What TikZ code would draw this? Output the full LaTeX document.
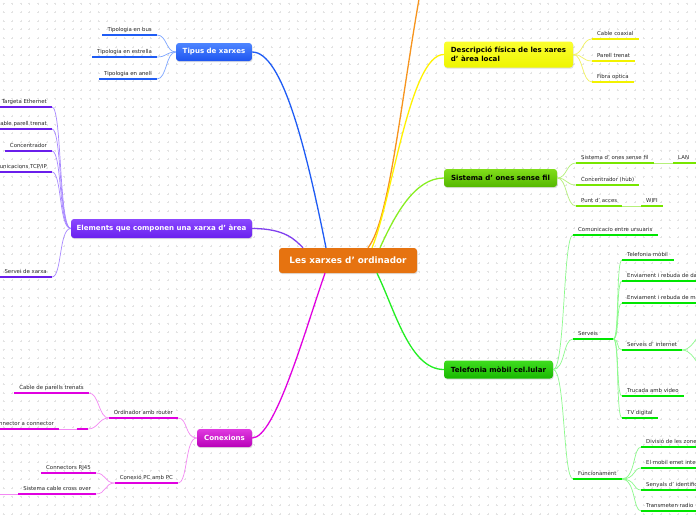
\documentclass[tikz,border=0pt]{standalone}
\usepackage{fontspec}
\setmainfont{DejaVu Sans}
\usetikzlibrary{shadows}
\definecolor{cOrange}{HTML}{E67310}
\definecolor{cOrangeL}{HTML}{F7941D}
\definecolor{cBlue}{HTML}{1F5CF5}
\definecolor{cBlueT}{HTML}{4D85FF}
\definecolor{cBlueB}{HTML}{1E55F0}
\definecolor{cBlueC}{HTML}{7EA6FF}
\definecolor{cPur}{HTML}{6A1EEB}
\definecolor{cPurT}{HTML}{8A48FF}
\definecolor{cPurB}{HTML}{6A20EE}
\definecolor{cPurC}{HTML}{A888FF}
\definecolor{cMag}{HTML}{E000E0}
\definecolor{cMagT}{HTML}{E03AE0}
\definecolor{cMagB}{HTML}{B800B8}
\definecolor{cMagC}{HTML}{F388F3}
\definecolor{cYel}{HTML}{F2F200}
\definecolor{cYelT}{HTML}{FBFF30}
\definecolor{cYelB}{HTML}{EEF500}
\definecolor{cYelC}{HTML}{F2F260}
\definecolor{cLg}{HTML}{77E600}
\definecolor{cLgT}{HTML}{80DD1A}
\definecolor{cLgB}{HTML}{55B800}
\definecolor{cLgC}{HTML}{B5F07A}
\definecolor{cLgM}{HTML}{88EE22}
\definecolor{cGr}{HTML}{00E600}
\definecolor{cGrT}{HTML}{3FDD1F}
\definecolor{cGrB}{HTML}{18B800}
\definecolor{cGrC}{HTML}{8CFA8C}
\definecolor{cGrM}{HTML}{22EE22}
\begin{document}
\begin{tikzpicture}[x=1pt,y=-1pt,
  box/.style={rounded corners=3pt, inner sep=2pt, align=center,
    font=\bfseries\fontsize{7.05}{8.6}\selectfont,
    drop shadow={shadow xshift=0.6pt, shadow yshift=-1.2pt, opacity=0.25}},
  leaf/.style={font=\fontsize{5.4}{6.5}\selectfont, text=black!85, inner xsep=5pt,
    inner ysep=1.6pt, text height=4.1pt, text depth=1.3pt},
  mainc/.style={line width=1.3pt},
  subc/.style={line width=0.7pt},
  ul/.style={line width=2.6pt},
  gridc/.style={draw=gray!22, line width=0.35pt}]
\useasboundingbox (0,0) rectangle (696,520);
\clip (0,0) rectangle (696,520);
\fill[white] (0,0) rectangle (696,520);
\draw[gridc] \foreach \i in {0,...,80}{\foreach \j in {0,...,60}{
  ({3.5+8.65*\i},{3.5+8.65*\j}) +(-1,0) -- +(1,0) +(0,-1) -- +(0,1)}};

% ---------- main boxes ----------
\node[box, minimum width=138, minimum height=25, fill=cOrange, text=white,
  font=\bfseries\fontsize{8.8}{10}\selectfont] (ctr) at (348,260.5) {Les xarxes d' ordinador};
\node[box, minimum width=76, minimum height=18, top color=cBlueT, bottom color=cBlueB, text=white] (tipus) at (214,52) {Tipus de xarxes};
\node[box, minimum width=181, minimum height=19, top color=cPurT, bottom color=cPurB, text=white] (elem) at (161.5,228.5) {Elements que componen una xarxa d' àrea};
\node[box, minimum width=55, minimum height=18, top color=cMagT, bottom color=cMagB, text=white] (conex) at (224.5,438) {Conexions};
\node[box, minimum width=129, minimum height=26, top color=cYelT, bottom color=cYelB, text=black, align=left] (desc) at (508.5,54.5) {Descripció física de les xares\\d' àrea local};
\node[box, minimum width=113, minimum height=18, top color=cLgT, bottom color=cLgB, text=black] (sist) at (500.5,178) {Sistema d' ones sense fil};
\node[box, minimum width=109, minimum height=18, top color=cGrT, bottom color=cGrB, text=black] (tele) at (498.5,369.5) {Telefonia mòbil cel.lular};

% ---------- main connectors ----------
\coordinate (offtop) at (421,-12);
\draw[mainc, cOrangeL] ([xshift=20pt]ctr.north) .. controls +(22,-28) and +(-20,110) .. (offtop);
\draw[mainc, cBlue] ([xshift=-22pt]ctr.north) .. controls +(-20,-100) and +(30,0) .. (tipus.east);
\draw[mainc, cPur!85] ([xshift=-45pt]ctr.north) .. controls +(-8,-8) and +(33,0) .. (elem.east);
\draw[mainc, cMag] ([xshift=-23pt]ctr.south) .. controls +(-20,57) and +(23,0) .. (conex.east);
\draw[mainc, yellow] ([xshift=24pt]ctr.north) .. controls +(20,-48) and +(-34,0) .. (desc.west);
\draw[mainc, cLgM] ([xshift=32pt]ctr.north) .. controls +(15,-33) and +(-29,0) .. (sist.west);
\draw[mainc, cGrM] ([xshift=29pt]ctr.south) .. controls +(18,37) and +(-34,0) .. (tele.west);

% ---------- Tipus de xarxes ----------
\node[leaf, anchor=south east] (bus) at (157,35) {Tipologia en bus};
\node[leaf, anchor=south east] (estr) at (157,57) {Tipologia en estrella};
\node[leaf, anchor=south east] (anell) at (157,79) {Tipologia en anell};
\foreach \n in {bus,estr,anell}{
  \draw[subc, cBlueC] (tipus.west) .. controls +(-10,0) and +(10,0) .. (\n.south east);
  \draw[ul, cBlue] (\n.south west) -- (\n.south east);}

% ---------- Elements ----------
\node[leaf, anchor=south east] (eth) at (52,107) {Targeta Ethernet};
\node[leaf, anchor=south east] (par) at (52,129) {Cable parell trenat};
\node[leaf, anchor=south east] (conc) at (52,151) {Concentrador};
\node[leaf, anchor=south east] (tcp) at (52,172) {Comunicacions TCP/IP};
\node[leaf, anchor=south east] (serv) at (52,277) {Servei de xarxa};
\foreach \n in {eth,par,conc,tcp,serv}{
  \draw[subc, cPurC] (elem.west) .. controls +(-12,0) and +(10,0) .. (\n.south east);
  \draw[ul, cPur] (\n.south west) -- (\n.south east);}

% ---------- Conexions ----------
\node[leaf, anchor=south east] (ordr) at (178,418) {Ordinador amb router};
\node[leaf, anchor=south east] (pcpc) at (178,483) {Conexió PC amb PC};
\node[leaf, anchor=south east] (cpt) at (89,393) {Cable de parells trenats};
\node[leaf, anchor=south east, minimum width=11, inner xsep=0pt] (emp) at (88,429) {};
\node[leaf, anchor=south east] (cac) at (59,429) {Connector a connector};
\node[leaf, anchor=south east] (rj) at (96,473) {Connectors RJ45};
\node[leaf, anchor=south east] (cross) at (96,494) {Sistema cable cross over};
\coordinate (offcross) at (-12,494);
\foreach \n in {ordr,pcpc}{
  \draw[subc, cMagC] (conex.west) .. controls +(-12,0) and +(10,0) .. (\n.south east);}
\foreach \n in {cpt,emp}{
  \draw[subc, cMagC] (ordr.south west) .. controls +(-10,0) and +(10,0) .. (\n.south east);}
\foreach \n in {rj,cross}{
  \draw[subc, cMagC] (pcpc.south west) .. controls +(-10,0) and +(10,0) .. (\n.south east);}
\draw[subc, cMagC] (emp.south west) -- (cac.south east);
\draw[subc, cMagC] (cross.south west) -- (offcross);
\foreach \n in {ordr,pcpc,cpt,emp,cac,rj,cross}{
  \draw[ul, cMag] (\n.south west) -- (\n.south east);}

% ---------- Descripcio ----------
\node[leaf, anchor=south west] (coax) at (592,39) {Cable coaxial};
\node[leaf, anchor=south west] (ptr) at (592,61) {Parell trenat};
\node[leaf, anchor=south west] (fib) at (592,82) {Fibra optica};
\foreach \n in {coax,ptr,fib}{
  \draw[subc, cYelC] (desc.east) .. controls +(10,0) and +(-10,0) .. (\n.south west);
  \draw[ul, cYel] (\n.south west) -- (\n.south east);}

% ---------- Sistema d'ones ----------
\node[leaf, anchor=south west] (sof) at (576,163) {Sistema d' ones sense fil};
\node[leaf, anchor=south west, text width=20, align=left] (lan) at (673,163) {LAN};
\node[leaf, anchor=south west] (hub) at (576,185) {Concentrador (hub)};
\node[leaf, anchor=south west] (punt) at (576,206) {Punt d' acces};
\node[leaf, anchor=south west] (wifi) at (641,206) {WIFI};
\foreach \n in {sof,hub,punt}{
  \draw[subc, cLgC] (sist.east) .. controls +(10,0) and +(-10,0) .. (\n.south west);}
\draw[subc, cLgC] (sof.south east) -- (lan.south west);
\draw[subc, cLgC] (punt.south east) -- (wifi.south west);
\foreach \n in {sof,lan,hub,punt,wifi}{
  \draw[ul, cLg] (\n.south west) -- (\n.south east);}

% ---------- Telefonia ----------
\node[leaf, anchor=south west] (com) at (573,235) {Comunicacio entre ursuaris};
\node[leaf, anchor=south west, text width=30, align=left] (servs) at (573,339) {Serveis};
\node[leaf, anchor=south west] (func) at (573,479) {Funcionament};
\foreach \n in {com,servs,func}{
  \draw[subc, cGrC] (tele.east) .. controls +(12,0) and +(-10,0) .. (\n.south west);}
\node[leaf, anchor=south west, text width=42, align=left] (tmob) at (622,260) {Telefonia mòbil};
\node[leaf, anchor=south west] (env1) at (622,281) {Enviament i rebuda de dades};
\node[leaf, anchor=south west] (env2) at (622,303) {Enviament i rebuda de missatges};
\node[leaf, anchor=south west] (sint) at (622,350) {Serveis d' internet};
\node[leaf, anchor=south west] (truc) at (622,396) {Trucada amb video};
\node[leaf, anchor=south west] (tv) at (622,418) {TV digital};
\foreach \n in {tmob,env1,env2,sint,truc,tv}{
  \draw[subc, cGrC] (servs.south east) .. controls +(6,0) and +(-6,0) .. (\n.south west);}
\node[leaf, anchor=south west] (div) at (641,447) {Divisió de les zones};
\node[leaf, anchor=south west] (emet) at (641,468) {El mobil emet intermitentment};
\node[leaf, anchor=south west] (seny) at (641,490) {Senyals d' identificació};
\node[leaf, anchor=south west] (trans) at (641,511) {Transmeten radio};
\foreach \n in {div,emet,seny,trans}{
  \draw[subc, cGrC] (func.south east) .. controls +(14,0) and +(-8,0) .. (\n.south west);}
\coordinate (offi1) at (712,318);
\coordinate (offi2) at (712,382);
\foreach \n in {offi1,offi2}{
  \draw[subc, cGrC] (sint.south east) .. controls +(14,0) and +(-8,0) .. (\n);}
\foreach \n in {com,servs,func,tmob,env1,env2,sint,truc,tv,div,emet,seny,trans}{
  \draw[ul, cGr] (\n.south west) -- (\n.south east);}
\end{tikzpicture}
\end{document}
